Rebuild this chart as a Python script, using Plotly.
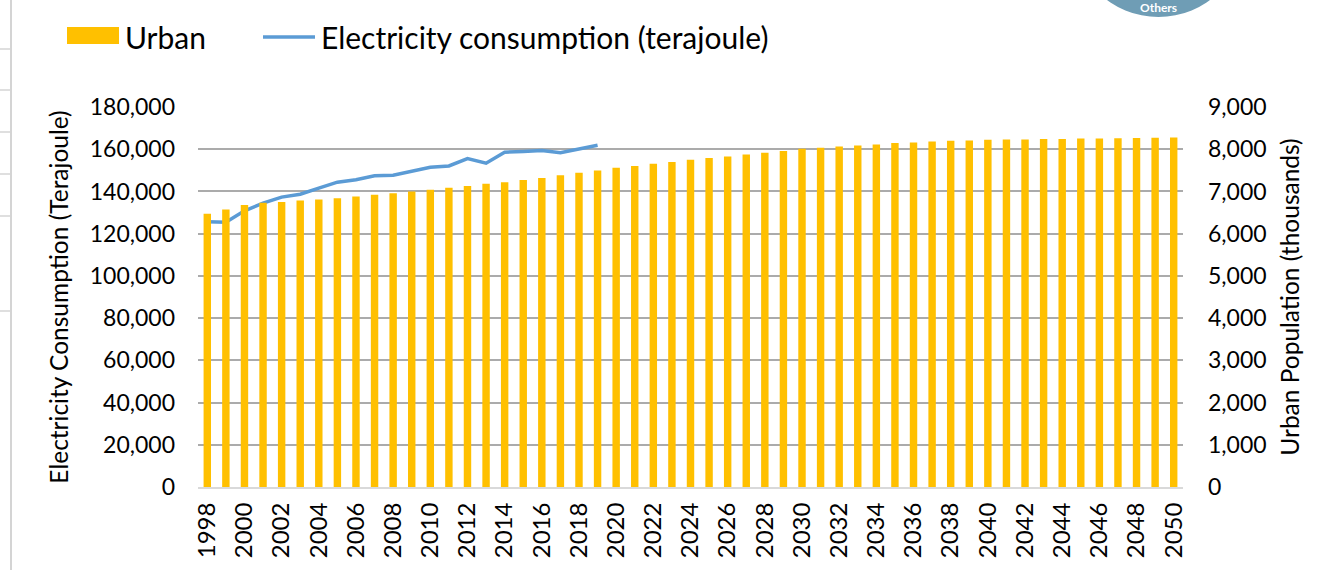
import plotly.graph_objects as go

years = list(range(1998, 2051))
urban_pop = [6470, 6570, 6680, 6730, 6750, 6785, 6810, 6840, 6880, 6920,
             6960, 7000, 7040, 7085, 7130, 7180, 7220, 7270, 7320, 7385,
             7440, 7495, 7560, 7605, 7655, 7700, 7750, 7790, 7830, 7875,
             7915, 7960, 8010, 8035, 8065, 8090, 8110, 8145, 8160, 8185,
             8200, 8205, 8225, 8230, 8232, 8240, 8245, 8252, 8255, 8262,
             8265, 8270, 8277]
elec_years = list(range(1998, 2020))
electricity = [125700, 125450, 130800, 134450, 137300, 138700, 141600, 144400,
               145500, 147400, 147700, 149800, 151500, 152100, 155600, 153400,
               158600, 158900, 159400, 158300, 159900, 161900]

FONT = "Lato"
BAR_COLOR = "#FFC000"
LINE_COLOR = "#5B9BD5"

W, H = 1319, 570
L, R, T, B = 198, 1183, 107, 487


def px(x):
    return (x - L) / (R - L)


def py(y):
    return (B - y) / (B - T)


fig = go.Figure()
fig.add_trace(go.Bar(x=years, y=urban_pop, name="Urban", marker_color=BAR_COLOR,
                     marker_line_width=0, width=0.4, yaxis="y2"))
fig.add_trace(go.Scatter(x=elec_years, y=electricity, name="Electricity consumption (terajoule)",
                         mode="lines", line=dict(color=LINE_COLOR, width=3.5), yaxis="y"))

shapes = []
# manual legend symbols
shapes.append(dict(type="rect", xref="paper", yref="paper",
                   x0=px(67), x1=px(119), y0=py(44), y1=py(27),
                   fillcolor=BAR_COLOR, line=dict(width=0)))
shapes.append(dict(type="line", xref="paper", yref="paper",
                   x0=px(263), x1=px(315), y0=py(37), y1=py(37),
                   line=dict(color=LINE_COLOR, width=3.5)))
# logo circle (top-right, cut off)
shapes.append(dict(type="circle", xref="paper", yref="paper",
                   x0=px(1072), x1=px(1245), y0=py(17), y1=py(-156),
                   fillcolor="#6f9db5", line=dict(width=0)))
# spreadsheet cell lines at left edge
shapes.append(dict(type="line", xref="paper", yref="paper",
                   x0=px(11), x1=px(11), y0=py(0), y1=py(570),
                   line=dict(color="#d4d4d4", width=2)))
for yy in [49, 90, 132, 174, 216, 311]:
    shapes.append(dict(type="line", xref="paper", yref="paper",
                       x0=px(0), x1=px(11), y0=py(yy), y1=py(yy),
                       line=dict(color="#d4d4d4", width=1.5)))

annotations = [
    dict(text="Urban", xref="paper", yref="paper", x=px(123), y=py(37),
         xanchor="left", yanchor="middle", showarrow=False,
         font=dict(family=FONT, size=30, color="#000000")),
    dict(text="Electricity consumption (terajoule)", xref="paper", yref="paper",
         x=px(319), y=py(37), xanchor="left", yanchor="middle", showarrow=False,
         font=dict(family=FONT, size=30, color="#000000")),
    dict(text="<b>Others</b>", xref="paper", yref="paper", x=px(1158), y=py(7),
         xanchor="center", yanchor="middle", showarrow=False,
         font=dict(family=FONT, size=12, color="#ffffff")),
]

fig.update_layout(
    width=W, height=H,
    margin=dict(l=L, r=W - R, t=T, b=H - B, autoexpand=False),
    paper_bgcolor="white", plot_bgcolor="white",
    showlegend=False,
    bargap=0.6,
    font=dict(family=FONT, color="#000000"),
    xaxis=dict(range=[1997.5, 2050.5], tickmode="linear", tick0=1998, dtick=2,
               tickangle=-90, tickfont=dict(size=24, family=FONT, color="#000000"),
               showgrid=False, showline=True, linecolor="#d9d9d9", linewidth=2,
               ticks="", ticklabelstandoff=4, automargin=False),
    yaxis=dict(range=[0, 180000], tickmode="linear", tick0=0, dtick=20000,
               tickformat=",", tickfont=dict(size=23, family=FONT, color="#000000"),
               showgrid=True, gridcolor="#ababab", gridwidth=1.5, zeroline=False,
               showline=False, ticks="", ticklabelstandoff=22, automargin=False,
               title=dict(text="Electricity Consumption (Terajoule)",
                          font=dict(size=24.5, family=FONT, color="#000000"), standoff=14)),
    yaxis2=dict(range=[0, 9000], tickmode="linear", tick0=0, dtick=1000,
                tickformat=",", overlaying="y", side="right",
                tickfont=dict(size=23, family=FONT, color="#000000"),
                showgrid=False, zeroline=False, showline=False, ticks="",
                ticklabelstandoff=24, automargin=False,
                title=dict(text="Urban Population (thousands)",
                           font=dict(size=24.5, family=FONT, color="#000000"), standoff=16)),
    shapes=shapes,
    annotations=annotations,
)

fig.write_html("out.html", config={"displayModeBar": False},
               post_script="document.body.style.margin='0';document.body.style.overflow='hidden';")
